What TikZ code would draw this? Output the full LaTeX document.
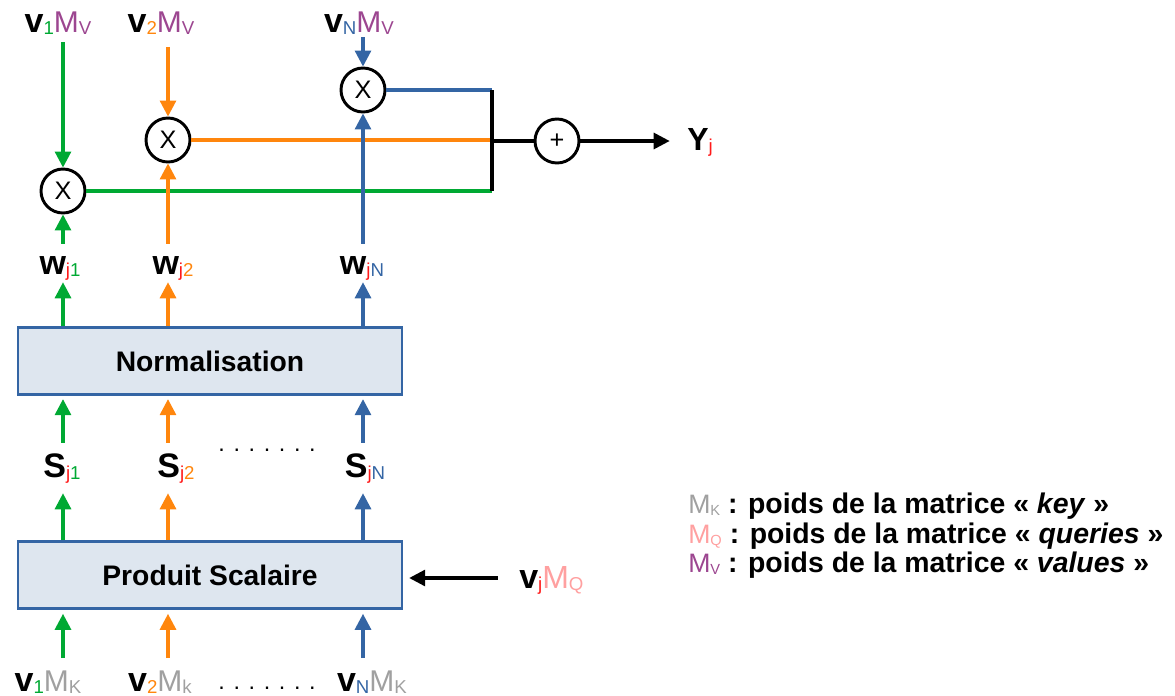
\documentclass[tikz,border=0pt]{standalone}
\usepackage{fontspec}
\setmainfont{Liberation Sans}
\usetikzlibrary{positioning,arrows.meta,calc}
\definecolor{verte}{HTML}{00A933}
\definecolor{orangee}{HTML}{FF860D}
\definecolor{bleue}{HTML}{3465A4}
\definecolor{violette}{HTML}{9C4690}
\definecolor{grise}{HTML}{A0A0A0}
\definecolor{rose}{HTML}{FFA0A0}
\definecolor{rouge}{HTML}{FF1A1A}
\definecolor{fond}{HTML}{DEE6EF}
\newcommand{\indice}[3][14]{\raisebox{-1.5pt}{\fontsize{#1}{#1}\selectfont\mdseries\color{#2}#3}}
\newcommand{\grand}[1]{{\fontsize{25.5}{26}\selectfont\bfseries #1}}
\newcommand{\matM}[2][22.5]{{\fontsize{#1}{#1}\selectfont\mdseries\color{#2}M}}

\begin{document}
\begin{tikzpicture}[x=0.75pt,y=-0.75pt,
  boite/.style={rectangle,draw=bleue,fill=fond,line width=2.2pt,minimum width=288pt,minimum height=50pt,font=\fontsize{21.2}{22}\selectfont\bfseries},
  rond/.style={circle,draw,line width=2.2pt,minimum size=33pt,inner sep=0pt,font=\fontsize{19}{19}\selectfont},
  etiq/.style={inner sep=0pt,text height=18pt,text depth=3pt,anchor=base},
  legende/.style={etiq,anchor=base west,font=\fontsize{21.3}{21.3}\selectfont\bfseries},
  points/.style={etiq,font=\fontsize{17.5}{17.5}\selectfont},
  fleche/.style={-{Triangle[length=12pt,width=12pt]},line width=2.3pt},
  trait/.style={line width=2.3pt}]
\useasboundingbox (0,0) rectangle (1175,696);
\coordinate (c1) at (63,0);
\coordinate (c2) at (168,0);
\coordinate (c3) at (363,0);
\coordinate (barre) at (492,141);
% boites
\node[boite] (prod) at (210,575) {Produit Scalaire};
\node[boite] (norm) at (210,361) {Normalisation};
% entrees
\node[etiq] (k1) at (48,691) {\grand{v}\indice{verte}{1}\matM{grise}\indice{grise}{K}};
\node[etiq] (k2) at (160,691) {\grand{v}\indice{orangee}{2}\matM{grise}\indice{grise}{k}};
\node[etiq] (k3) at (372,691) {\grand{v}\indice{bleue}{N}\matM{grise}\indice{grise}{K}};
\node[points] (pk) at (267,689) {. . . . . . .};
\node[etiq,anchor=base west] (vq) at (519,588) {\grand{v}\indice{rouge}{j}\matM[24]{rose}\indice{rose}{Q}};
% scores
\node[etiq] (s1) at (62,477) {\grand{S}\indice{rouge}{j}\indice{verte}{1}};
\node[etiq] (s2) at (176,477) {\grand{S}\indice{rouge}{j}\indice{orangee}{2}};
\node[etiq] (s3) at (365,477) {\grand{S}\indice{rouge}{j}\indice{bleue}{N}};
\node[points] (ps) at (267,451) {. . . . . . .};
% poids
\node[etiq] (w1) at (60,274) {\grand{w}\indice{rouge}{j}\indice{verte}{1}};
\node[etiq] (w2) at (173,274) {\grand{w}\indice{rouge}{j}\indice{orangee}{2}};
\node[etiq] (w3) at (362,274) {\grand{w}\indice{rouge}{j}\indice{bleue}{N}};
% produits
\node[rond] (x1) at (63,191) {X};
\node[rond] (x2) at (168,140) {X};
\node[rond] (x3) at (363,90) {X};
\node[rond] (plus) at (557,141) {+};
% valeurs
\node[etiq] (v1) at (58,32) {\grand{v}\indice{verte}{1}\matM{violette}\indice{violette}{V}};
\node[etiq] (v2) at (161,32) {\grand{v}\indice{orangee}{2}\matM{violette}\indice{violette}{V}};
\node[etiq] (v3) at (359,32) {\grand{v}\indice{bleue}{N}\matM{violette}\indice{violette}{V}};
\node[etiq,anchor=base west] (yj) at (687,150) {{\fontsize{24}{24}\selectfont\bfseries Y}\indice{rouge}{j}};
% legende
\node[legende] (lk) at (688,513) {\matM[20]{grise}\indice[11]{grise}{K} : poids de la matrice « \textit{key} »};
\node[legende] (lq) at (688,543) {\matM[20]{rose}\indice[11]{rose}{Q} : poids de la matrice « \textit{queries} »};
\node[legende] (lv) at (688,572) {\matM[20]{violette}\indice[11]{violette}{V} : poids de la matrice « \textit{values} »};
% fleches
\foreach \k/\s/\w/\x/\v/\c/\col/\d in {k1/s1/w1/x1/v1/c1/verte/4.5pt,k2/s2/w2/x2/v2/c2/orangee/8pt,k3/s3/w3/x3/v3/c3/bleue/0.75pt}{
  \draw[fleche,\col,shorten <=6.5pt,shorten >=3pt] (\k.north -| \c) -- (prod.south -| \c);
  \draw[fleche,\col,shorten >=9pt] (prod.north -| \c) -- (\s.south -| \c);
  \draw[fleche,\col,shorten <=7.5pt,shorten >=2.5pt] (\s.north -| \c) -- (norm.south -| \c);
  \draw[fleche,\col,shorten >=3pt] (norm.north -| \c) -- (\w.south -| \c);
  \draw[fleche,\col,shorten <=4.5pt] (\w.north -| \c) -- (\x.south);
  \draw[fleche,\col,shorten <=\d] (\v.south -| \c) -- (\x.north);
  \draw[trait,\col] (\x.east) -- (\x.east -| barre);
}
\draw[line width=3pt] (x3.east -| barre) -- (x1.east -| barre);
\draw[trait] (barre) -- (plus.west);
\draw[fleche,shorten >=13pt] (plus.east) -- (plus.east -| yj.west);
\draw[fleche,shorten <=16pt,shorten >=4.3pt] (vq.west) -- (vq.west -| prod.east);
\end{tikzpicture}
\end{document}
